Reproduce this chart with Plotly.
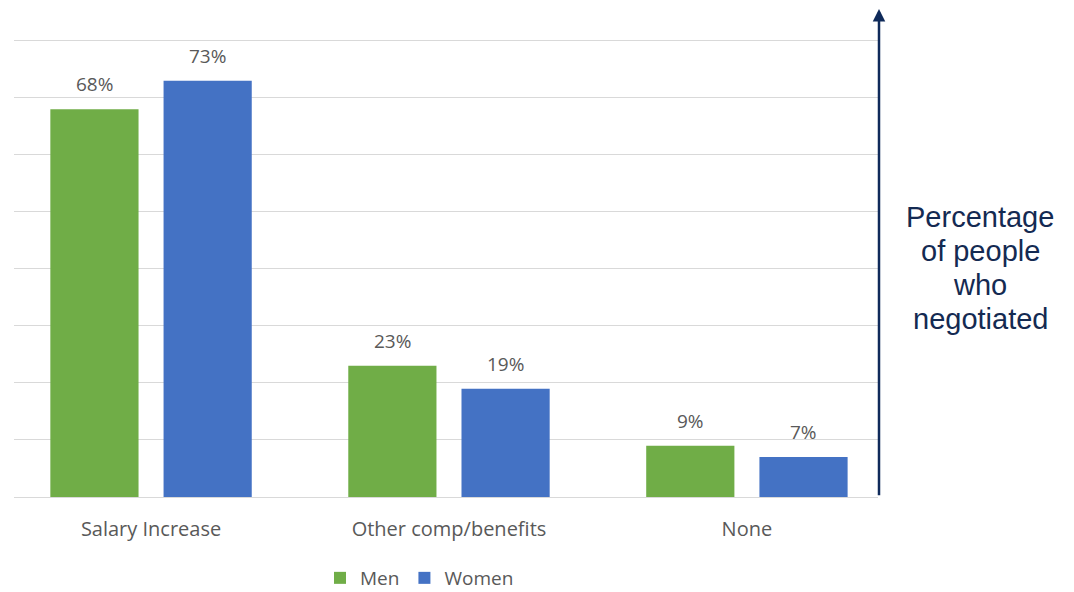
import plotly.graph_objects as go

categories = ["Salary Increase", "Other comp/benefits", "None"]
men = [68, 23, 9]
women = [73, 19, 7]
series_names = ["Men", "Women"]
colors = ["#70ad47", "#4472c4"]
side_lines = ["Percentage", "of people", "who", "negotiated"]

# page has an 8px body margin, so the figure is sized to fit the 1074x592 window
OFF = 8
W, H = 1074 - OFF, 592 - OFF
Y_MAX = 81
# plot area in page pixels: x 14..878, baseline y 497, 57px per 10%
px_left, px_right, px_base = 14, 878, 497
PH = 57 * Y_MAX / 10
px_top = px_base - PH
ml = px_left - OFF
mr = W - (px_right - OFF)
mt = px_top - OFF
mb = H - (px_base - OFF)
PW = px_right - px_left


def paper_x(px):
    return (px - px_left) / PW


def paper_y(py):
    return (px_base - py) / PH


fig = go.Figure()
for name, vals, col in zip(series_names, [men, women], colors):
    fig.add_trace(go.Bar(
        name=name, x=categories, y=vals, marker=dict(color=col, line=dict(width=0)),
        hoverinfo="skip"
    ))

slot = 0.38
bargroupgap = 0.221
bargap = 1 - 2 * slot
offsets = [-slot / 2, slot / 2]
font_main = "Open Sans, Arial, sans-serif"
annotations = []
for vals, off in zip([men, women], offsets):
    for i, v in enumerate(vals):
        annotations.append(dict(
            x=i + off, y=v, xref="x", yref="y", text=f"{v}%", showarrow=False,
            yanchor="bottom", yshift=10,
            font=dict(family=font_main, size=19, color="#595959")
        ))

# vertical arrow at right edge of plot area
annotations.append(dict(
    x=paper_x(879), y=paper_y(-2), xref="paper", yref="paper", ax=0, ay=499,
    axref="pixel", ayref="pixel", showarrow=True, arrowhead=2, arrowsize=1.0,
    arrowwidth=2.5, arrowcolor="#0f2a5a", text=""
))
for k, line in enumerate(side_lines):
    annotations.append(dict(
        x=paper_x(980), y=paper_y(217 + 34 * k), xref="paper", yref="paper",
        text=line, showarrow=False, align="center", xanchor="center", yanchor="middle",
        font=dict(family="Liberation Sans, Arial, sans-serif", size=29, color="#142a52")
    ))

fig.update_layout(
    width=W, height=H, margin=dict(l=ml, r=mr, t=mt, b=mb, autoexpand=False),
    paper_bgcolor="white", plot_bgcolor="white",
    barmode="group", bargap=bargap, bargroupgap=bargroupgap,
    annotations=annotations,
    showlegend=True,
    legend=dict(orientation="h", xref="paper", x=paper_x(320), xanchor="left",
                yref="container", y=1 - (578 - OFF) / H, yanchor="middle",
                font=dict(family=font_main, size=19, color="#595959"),
                itemwidth=30, traceorder="normal"),
    xaxis=dict(range=[-0.46, 2.44], showgrid=False, zeroline=False, showline=False,
               ticks="outside", ticklen=14, tickcolor="rgba(0,0,0,0)",
               tickfont=dict(family=font_main, size=20, color="#595959"),
               fixedrange=True),
    yaxis=dict(range=[0, Y_MAX], dtick=10, showgrid=True, gridcolor="#d9d9d9", gridwidth=1,
               zeroline=True, zerolinecolor="#d9d9d9", zerolinewidth=1,
               showticklabels=False, ticks="", showline=False, fixedrange=True),
)

fig.write_html("out.html")
